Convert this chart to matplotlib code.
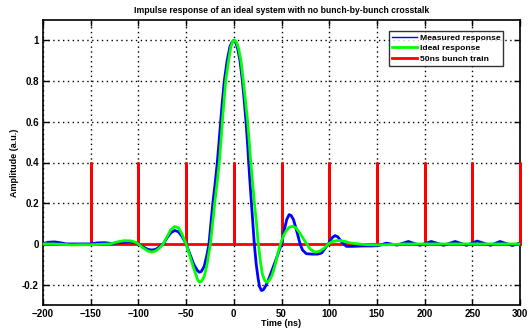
import matplotlib
matplotlib.use("Agg")
import matplotlib.pyplot as plt

# 测量响应 (ns, a.u.)
t_meas = [-200, -195, -188, -182, -176, -160, -150, -143, -135, -128, -120, -110, -104,
          -100, -95, -90, -86, -82, -78, -74, -70, -66, -62, -58, -54, -50, -46, -42,
          -38, -36, -34, -31, -28, -26, -24, -22, -19.5, -17.3, -15.5, -13.8, -12, -10,
          -7, -4, -2, 0, 2, 4, 6.5, 9, 11, 12.8, 14.3, 15.6, 17, 18.5, 20, 21.5, 23.5,
          25.5, 27, 29, 31, 33, 36, 40, 44, 47, 50, 53, 55.5, 58, 60, 62.5, 65, 67,
          69.5, 72, 76, 82, 88, 92, 96, 99, 103, 106, 109, 113, 118, 125, 135, 145,
          152, 160, 171, 183, 195, 207, 220, 232, 244, 255, 269, 279, 292, 300]
v_meas = [0.0, 0.008, 0.01, 0.006, 0.0, 0.0, 0.0, 0.005, 0.006, 0.002, 0.006, 0.01, 0.007,
          0.0, -0.015, -0.027, -0.03, -0.027, -0.015, 0.0, 0.03, 0.055, 0.066, 0.06, 0.035,
          0.0, -0.05, -0.1, -0.132, -0.139, -0.135, -0.11, -0.05, 0.0, 0.1, 0.2, 0.3, 0.4,
          0.5, 0.6, 0.7, 0.8, 0.9, 0.97, 0.99, 1.0, 0.99, 0.96, 0.9, 0.8, 0.7, 0.6, 0.5,
          0.4, 0.3, 0.2, 0.1, 0.0, -0.1, -0.17, -0.21, -0.229, -0.225, -0.21, -0.18, -0.13,
          -0.08, -0.04, 0.0, 0.07, 0.12, 0.144, 0.14, 0.12, 0.08, 0.045, 0.0, -0.03, -0.048,
          -0.05, -0.05, -0.045, -0.02, 0.0, 0.03, 0.041, 0.035, 0.01, -0.012, -0.012, -0.01,
          -0.01, -0.008, 0.004, -0.006, 0.012, -0.007, 0.012, -0.007, 0.012, -0.007, 0.014,
          -0.007, 0.012, -0.008, 0.005]

# 理想响应
t_ideal = [-200, -190, -180, -170, -160, -150, -140, -130, -122, -115, -108, -103, -100,
           -95, -90, -86, -82, -78, -74, -70, -66, -62, -58, -54, -50, -46, -42, -38, -36,
           -34, -31, -28, -26, -24.5, -22, -20, -17.5, -15.2, -13.5, -12, -10.3, -8.5,
           -5.5, -3, -1, 1, 3, 5, 7.5, 10, 12.3, 14.5, 16.2, 17.8, 19.7, 21.6, 23.8, 25.7,
           28, 30, 32.5, 34.5, 37, 40, 43, 46, 49, 52, 55, 58, 61.7, 65, 69, 73, 76.5, 80,
           85, 90, 95, 99, 104, 110, 116, 122, 130, 140, 150, 160, 170, 180, 200, 250, 300]
v_ideal = [0.0, 0.0, -0.002, -0.005, -0.004, -0.004, -0.002, 0.0, 0.01, 0.016, 0.015, 0.008,
           0.0, -0.02, -0.035, -0.04, -0.035, -0.02, 0.0, 0.035, 0.07, 0.085, 0.08, 0.045,
           0.0, -0.06, -0.12, -0.175, -0.188, -0.185, -0.16, -0.1, -0.04, 0.0, 0.11, 0.2,
           0.3, 0.4, 0.5, 0.6, 0.7, 0.8, 0.9, 0.97, 0.995, 1.0, 0.99, 0.96, 0.9, 0.8, 0.7,
           0.6, 0.5, 0.4, 0.3, 0.2, 0.1, 0.0, -0.09, -0.15, -0.18, -0.188, -0.18, -0.155,
           -0.11, -0.05, 0.0, 0.04, 0.065, 0.082, 0.087, 0.08, 0.055, 0.025, 0.0, -0.025,
           -0.04, -0.036, -0.02, 0.0, 0.013, 0.017, 0.013, 0.005, 0.0, -0.004, -0.005,
           -0.004, -0.002, 0.0, 0.0, 0.0, 0.0]

# 50ns 束团串
bunch_times = [-150, -100, -50, 0, 50, 100, 150, 200, 250, 300]
bunch_amp = 0.4

x_ticks = [-200, -150, -100, -50, 0, 50, 100, 150, 200, 250, 300]
y_ticks = [-0.2, 0, 0.2, 0.4, 0.6, 0.8, 1]

plt.rcParams['font.family'] = ['Liberation Sans Narrow', 'Liberation Sans', 'DejaVu Sans']
plt.rcParams['font.size'] = 6.5
plt.rcParams['font.weight'] = 'bold'

# 束团串画成一条线：基线 + 尖峰
bx = [-200]
by = [0]
for t in bunch_times:
    bx += [t, t, t]
    by += [0, bunch_amp, 0]

fig = plt.figure(figsize=(5.29, 3.28), dpi=100)
ax = fig.add_axes([43/529, 23/328, 477/529, 285/328])

ax.plot(t_meas, v_meas, color='#0000ff', lw=2, label='Measured response', zorder=3)
ax.plot(t_ideal, v_ideal, color='#00ff00', lw=2, label='Ideal response', zorder=4)
ax.plot(bx, by, color='#ff0000', lw=2, label='50ns bunch train', zorder=2.7, clip_on=False)

ax.set_xlim(-200, 300)
ax.set_ylim(-0.3, 1.1)
ax.set_xticks(x_ticks)
ax.set_yticks(y_ticks)
ax.set_yticklabels(['-0.2', '0', '0.2', '0.4', '0.6', '0.8', '1'])
ax.tick_params(direction='in', length=4, width=1, top=True, right=True, labelsize=7, pad=3)
ax.grid(True, color='black', linestyle=(0, (1, 2.5)), linewidth=1)
for s in ax.spines.values():
    s.set_linewidth(1.2)

ax.set_title('Impulse response of an ideal system with no bunch-by-bunch crosstalk',
             fontsize=6.2, fontweight='bold', pad=5)
ax.set_xlabel('Time (ns)', fontsize=6.5, fontweight='bold', labelpad=0)
ax.set_ylabel('Amplitude (a.u.)', fontsize=6.5, fontweight='bold', labelpad=2)

leg = ax.legend(loc='upper right', bbox_to_anchor=(0.965, 0.962), fontsize=6.1,
                frameon=True, fancybox=False, edgecolor='black', handlelength=3.0,
                handletextpad=0.3, borderpad=0.35, labelspacing=0.3, borderaxespad=0)
leg.get_frame().set_linewidth(1)
leg.legend_handles[0].set_linewidth(1)

fig.savefig('out.png', dpi=100)
